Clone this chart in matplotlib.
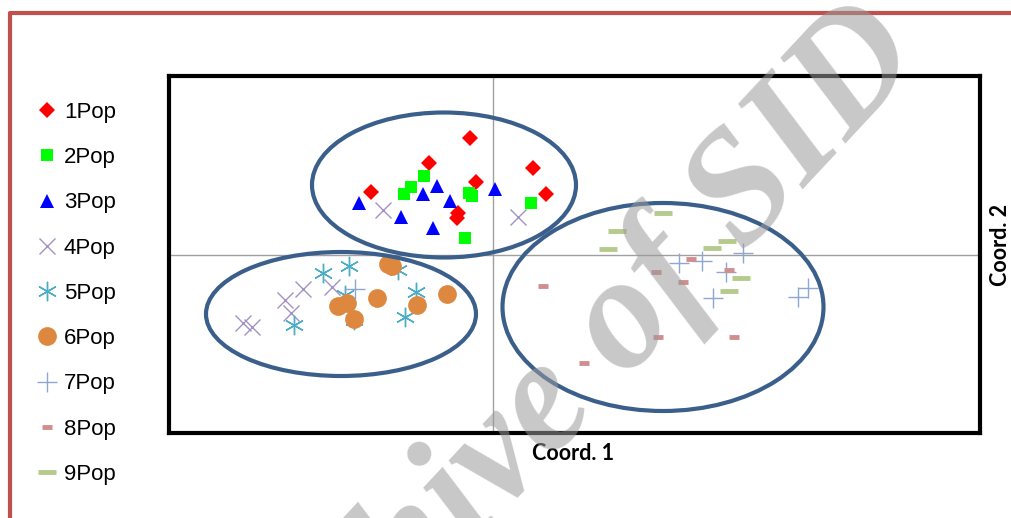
import matplotlib.pyplot as plt
from matplotlib.lines import Line2D
from matplotlib.patches import Ellipse

# Coordinates (arbitrary PCoA units, origin at the crosshair)
pop1_x = [-0.23, -0.64, 0.40, -0.17, -1.22, 0.53, -0.35, -0.36]
pop1_y = [1.17, 0.92, 0.87, 0.73, 0.63, 0.61, 0.42, 0.37]
pop2_x = [-0.69, -0.82, -0.89, -0.24, -0.21, 0.38, -0.28]
pop2_y = [0.79, 0.68, 0.61, 0.62, 0.59, 0.52, 0.17]
pop3_x = [-1.34, -0.92, -0.70, -0.56, -0.43, -0.60, 0.02]
pop3_y = [0.52, 0.38, 0.61, 0.69, 0.54, 0.27, 0.66]
pop4_x = [-1.10, 0.25, -2.50, -2.41, -2.08, -2.02, -1.90, -1.61]
pop4_y = [0.45, 0.38, -0.68, -0.72, -0.45, -0.58, -0.34, -0.32]
pop5_x = [-1.70, -1.44, -0.95, -0.77, -0.88, -1.99, -1.39, -1.48]
pop5_y = [-0.18, -0.11, -0.15, -0.37, -0.62, -0.70, -0.65, -0.40]
pop6_x = [-1.05, -1.01, -1.16, -1.55, -1.46, -1.39, -0.76, -0.46]
pop6_y = [-0.09, -0.11, -0.43, -0.51, -0.48, -0.64, -0.50, -0.39]
pop7_x = [-1.38, 1.86, 2.09, 2.33, 2.50, 2.20, 3.05, 3.15]
pop7_y = [-0.34, -0.08, -0.06, -0.17, 0.02, -0.43, -0.42, -0.33]
pop8_x = [0.50, 1.63, 1.90, 1.98, 2.36, 1.65, 2.41, 0.91]
pop8_y = [-0.31, -0.17, -0.27, -0.04, -0.15, -0.82, -0.82, -1.08]
pop9_x = [1.70, 1.24, 1.15, 2.19, 2.34, 2.48, 2.36]
pop9_y = [0.42, 0.24, 0.06, 0.07, 0.14, -0.23, -0.36]

labels = ["1Pop", "2Pop", "3Pop", "4Pop", "5Pop", "6Pop", "7Pop", "8Pop", "9Pop"]

# group ellipses: centre x, centre y, width, height
ell_x = [-0.49, -1.52, 1.70]
ell_y = [0.70, -0.59, -0.52]
ell_w = [2.64, 2.70, 3.21]
ell_h = [1.45, 1.24, 2.08]

xs = [pop1_x, pop2_x, pop3_x, pop4_x, pop5_x, pop6_x, pop7_x, pop8_x, pop9_x]
ys = [pop1_y, pop2_y, pop3_y, pop4_y, pop5_y, pop6_y, pop7_y, pop8_y, pop9_y]
styles = [
    dict(marker="D", color="#FF0000", ms=8.5, mew=0),
    dict(marker="s", color="#00FF00", ms=9, mew=0),
    dict(marker="^", color="#0000FF", ms=10, mew=0),
    dict(marker="x", color="#A592C4", ms=12, mew=1.0),
    dict(marker=(6, 2, 0), color="#4BACC6", ms=14, mew=1.0),
    dict(marker="o", color="#DD883E", ms=13.5, mew=0),
    dict(marker="+", color="#8EA7D2", ms=14, mew=1.0),
    dict(marker="_", color="#D08E8E", ms=7, mew=3.5),
    dict(marker="_", color="#B4CB8C", ms=13, mew=3.5),
]

fig = plt.figure(figsize=(10.12, 5.18), dpi=100)
ax = fig.add_axes([169 / 1012, 1 - 433 / 518, 811 / 1012, 357 / 518])

ax.axhline(0, color="#A0A0A0", lw=1, zorder=1)
ax.axvline(0, color="#A0A0A0", lw=1, zorder=1)

handles = []
for x, y, st, lab in zip(xs, ys, styles, labels):
    ln, = ax.plot(x, y, linestyle="none", zorder=3, label=lab, **st)
    handles.append(ln)

for cx, cy, w, h in zip(ell_x, ell_y, ell_w, ell_h):
    ax.add_patch(Ellipse((cx, cy), w, h, fill=False, edgecolor="#3B5F8B",
                         lw=3, zorder=4))

ax.set_xlim(-3.24, 4.87)
ax.set_ylim(-1.78, 1.79)
ax.set_xticks([])
ax.set_yticks([])
for sp in ax.spines.values():
    sp.set_linewidth(3)
    sp.set_color("black")

fig.text(573 / 1012, 1 - 453 / 518, "Coord. 1", ha="center", va="center",
         fontsize=15.5, fontweight="bold", family="Lato")
fig.text(1001 / 1012, 1 - 245 / 518, "Coord. 2", ha="center", va="center",
         rotation=90, fontsize=15.5, fontweight="bold", family="Lato")

fig.legend(handles=handles, labels=labels, loc="upper left",
           bbox_to_anchor=(38 / 1012, 1 - 102 / 518), frameon=False,
           prop={"family": "Liberation Sans", "size": 16},
           labelspacing=1.09, handlelength=0.81, handletextpad=0.36,
           borderpad=0, borderaxespad=0)

# red page frame
fig.add_artist(Line2D([10 / 1012, 10 / 1012, 1.0], [0.0, 1 - 13 / 518, 1 - 13 / 518],
                      transform=fig.transFigure, color="#C0504D", lw=3))

# watermark
fig.text(560 / 1012, 1 - 400 / 518, "Archive of SID", ha="center", va="center",
         rotation=47, fontsize=115, fontweight="bold", fontstyle="italic",
         family="Liberation Serif", color="#9A9A9A", alpha=0.55, zorder=10)

fig.savefig("out.png", dpi=100)
